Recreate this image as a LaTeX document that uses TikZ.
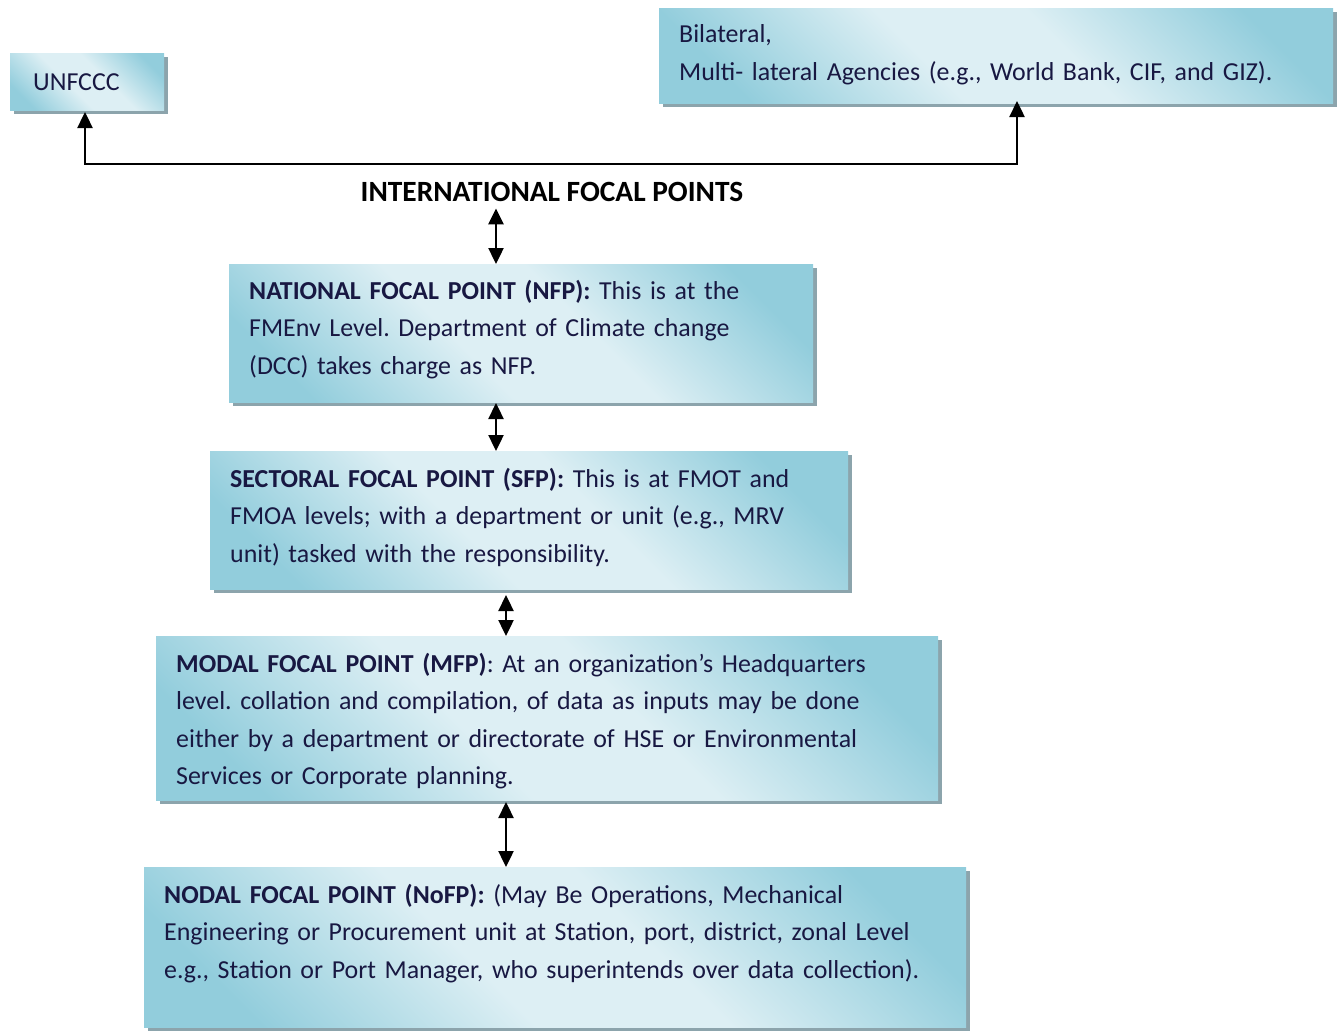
\documentclass[tikz,border=0pt]{standalone}
\usepackage{fontspec}
\setmainfont{Carlito}
\usetikzlibrary{arrows.meta,shadows}

\definecolor{boxdark}{RGB}{146,205,220}
\definecolor{boxlight}{RGB}{221,239,244}
\definecolor{boxshadow}{RGB}{140,164,172}
\definecolor{ink}{RGB}{24,24,66}

% diagonal panel fill: darker corners, light band across the middle
\pgfdeclareverticalshading{panelshade}{100bp}{%
  color(0bp)=(boxdark); color(23bp)=(boxdark); color(43bp)=(boxlight);
  color(57bp)=(boxlight); color(77bp)=(boxdark); color(100bp)=(boxdark)}

\tikzset{
  panel/.style={anchor=north west, inner sep=0pt, outer sep=0pt,
    shading=panelshade, shading angle=-45,
    drop shadow={shadow xshift=3.5bp, shadow yshift=-3.5bp,
                 fill=boxshadow, opacity=1}},
  paneltext/.style={anchor=base west, inner sep=0pt, text=ink,
    font=\fontsize{26}{37.5}\selectfont\frenchspacing, text width=800bp, align=left},
  heading/.style={anchor=base, inner sep=0pt, text=black,
    font=\fontsize{29.5}{37.5}\selectfont\bfseries},
  link/.style={line width=2.4bp, draw=black,
    {Triangle[width=15bp,length=16bp]}-{Triangle[width=15bp,length=16bp]}}
}

\begin{document}
\begin{tikzpicture}[x=1bp,y=-1bp]
  \useasboundingbox (0,0) rectangle (1338,1030);

  % panels
  \node[panel, minimum width=154bp, minimum height=57bp]  (unfccc) at (10,53)   {};
  \node[panel, minimum width=674bp, minimum height=95bp]  (bilat)  at (659,8)   {};
  \node[panel, minimum width=584bp, minimum height=138bp] (nfp)    at (229,264) {};
  \node[panel, minimum width=638bp, minimum height=138bp] (sfp)    at (210,451) {};
  \node[panel, minimum width=782bp, minimum height=164bp] (mfp)    at (156,636) {};
  \node[panel, minimum width=822bp, minimum height=160bp] (nofp)   at (144,867) {};

  % panel texts
  \node[paneltext] (unfccctext) at (33,90.5) {UNFCCC};
  \node[paneltext, font=\fontsize{26}{38}\selectfont\frenchspacing] (bilattext) at (679,42.5)
    {Bilateral,\\Multi- lateral Agencies (e.g., World Bank, CIF, and GIZ).};
  \node[heading] (intl) at (552,201.5) {INTERNATIONAL FOCAL POINTS};
  \node[paneltext] (nfptext) at (249,299.5)
    {\textbf{NATIONAL FOCAL POINT (NFP):} This is at the\\
     FMEnv Level. Department of Climate change\\
     (DCC) takes charge as NFP.};
  \node[paneltext] (sfptext) at (230,487.5)
    {\textbf{SECTORAL FOCAL POINT (SFP):} This is at FMOT and\\
     FMOA levels; with a department or unit (e.g., MRV\\
     unit) tasked with the responsibility.};
  \node[paneltext] (mfptext) at (176,672.5)
    {\textbf{MODAL FOCAL POINT (MFP)}: At an organization’s Headquarters\\
     level. collation and compilation, of data as inputs may be done\\
     either by a department or directorate of HSE or Environmental\\
     Services or Corporate planning.};
  \node[paneltext] (nofptext) at (164,903.5)
    {\textbf{NODAL FOCAL POINT (NoFP):} (May Be Operations, Mechanical\\
     Engineering or Procurement unit at Station, port, district, zonal Level\\
     e.g., Station or Port Manager, who superintends over data collection).};

  % connector lanes
  \coordinate (left)  at (85,164);
  \coordinate (right) at (1017,164);
  \coordinate (lane1) at (496,0);
  \coordinate (lane2) at (506,0);

  % connectors
  \draw[link] ([yshift=-2bp]unfccc.south -| left) -- (left) -- (right)
              -- ([yshift=2bp]bilat.south -| right);
  \draw[link] ([yshift=-6.5bp]intl.south -| lane1) -- (nfp.north -| lane1);
  \draw[link] ([yshift=-1bp]nfp.south -| lane1) -- (sfp.north -| lane1);
  \draw[link] ([yshift=-6bp]sfp.south -| lane2) -- (mfp.north -| lane2);
  \draw[link] ([yshift=-2bp]mfp.south -| lane2) -- (nofp.north -| lane2);
\end{tikzpicture}
\end{document}
